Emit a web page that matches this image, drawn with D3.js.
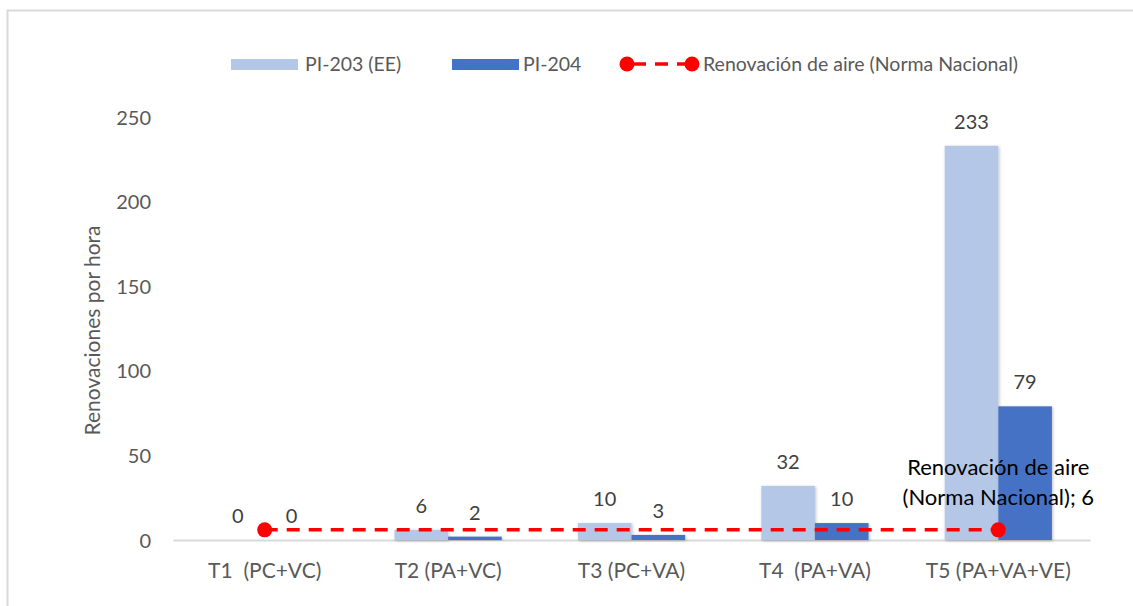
<!DOCTYPE html>
<html>
<head>
<meta charset="utf-8">
<script src="https://cdn.jsdelivr.net/npm/d3@7"></script>
<style>
	body { margin: 0; background: #fff; }
	text { font-family: Lato, "Open Sans", sans-serif; white-space: pre; }
</style>
</head>
<body>
<script>
const categories = ['T1  (PC+VC)', 'T2 (PA+VC)', 'T3 (PC+VA)', 'T4  (PA+VA)', 'T5 (PA+VA+VE)'];
const pi203 = [0, 6, 10, 32, 233];
const pi204 = [0, 2, 3, 10, 79];
const norma = [6, 6, 6, 6, 6];
const normaMarkers = [true, false, false, false, true];
const yTicks = [0, 50, 100, 150, 200, 250];
const seriesNames = ['PI-203 (EE)', 'PI-204', 'Renovación de aire (Norma Nacional)'];

document.addEventListener('DOMContentLoaded', () => {
	let width = 1133, height = 606;
	let svg = d3.select('body').append('svg')
		.attr('width', width)
		.attr('height', height);

	let defs = svg.append('defs');
	let f = defs.append('filter').attr('id', 'shadow')
		.attr('x', '-20%').attr('y', '-20%').attr('width', '140%').attr('height', '140%');
	f.append('feDropShadow').attr('dx', 1).attr('dy', 1).attr('stdDeviation', 1.5)
		.attr('flood-color', '#000').attr('flood-opacity', 0.25);

	// chart frame
	svg.append('rect')
		.attr('x', 7.5).attr('y', 10.5)
		.attr('width', width).attr('height', height)
		.style('fill', 'none').style('stroke', '#D9D9D9').style('stroke-width', 2);

	let left = 173, right = 1090, top = 117, bottom = 540;

	let x = d3.scaleBand().domain(categories).range([left, right]);
	let y = d3.scaleLinear().domain([0, 250]).range([bottom, top]);
	let inner = d3.scaleBand().domain([0, 1]).range([0, x.bandwidth()]).paddingOuter(0.71);

	// y axis labels
	let yAxis = svg.append('g')
		.attr('transform', `translate(${left - 22},0)`)
		.call(d3.axisLeft(y).tickValues(yTicks).tickSize(0).tickPadding(0));
	yAxis.select('.domain').remove();
	yAxis.selectAll('text')
		.style('font-size', '20px').style('fill', '#595959')
		.attr('dy', '0.35em');

	svg.append('text')
		.attr('transform', `translate(100,${(top + bottom) / 2 + 2}) rotate(-90)`)
		.attr('text-anchor', 'middle')
		.style('font-size', '21px').style('fill', '#595959')
		.text('Renovaciones por hora');

	// x axis
	let xAxis = svg.append('g')
		.attr('transform', `translate(0,${bottom})`)
		.call(d3.axisBottom(x).tickSize(0).tickPadding(23));
	xAxis.select('.domain').style('stroke', '#D9D9D9').style('stroke-width', 2);
	xAxis.selectAll('text')
		.style('font-size', '21px').style('fill', '#595959');

	// bars
	let series = [
		{ values: pi203, color: '#B4C7E7', idx: 0 },
		{ values: pi204, color: '#4472C4', idx: 1 }
	];
	for (let s of series) {
		let g = svg.append('g');
		g.selectAll('rect')
			.data(s.values)
			.enter().append('rect')
			.attr('x', (d, i) => x(categories[i]) + inner(s.idx))
			.attr('y', d => y(d))
			.attr('width', inner.bandwidth())
			.attr('height', d => bottom - y(d))
			.style('fill', s.color)
			.attr('filter', 'url(#shadow)');
		g.selectAll('text')
			.data(s.values)
			.enter().append('text')
			.attr('x', (d, i) => x(categories[i]) + inner(s.idx) + inner.bandwidth() / 2)
			.attr('y', d => y(d) - 17)
			.attr('text-anchor', 'middle')
			.style('font-size', '20px').style('fill', '#404040')
			.text(d => d);
	}

	// norma line
	let line = d3.line()
		.x((d, i) => x(categories[i]) + x.bandwidth() / 2)
		.y(d => y(d));
	svg.append('path')
		.datum(norma)
		.attr('d', line)
		.style('fill', 'none').style('stroke', '#FF0000')
		.style('stroke-width', 3.5).style('stroke-dasharray', '13,9');
	svg.selectAll('circle.marker')
		.data(norma.map((d, i) => ({ v: d, i: i })).filter(d => normaMarkers[d.i]))
		.enter().append('circle')
		.attr('class', 'marker')
		.attr('cx', d => x(categories[d.i]) + x.bandwidth() / 2)
		.attr('cy', d => y(d.v))
		.attr('r', 7.5)
		.style('fill', '#FF0000');

	let last = norma.length - 1;
	let lbl = svg.append('text')
		.attr('x', x(categories[last]) + x.bandwidth() / 2)
		.attr('y', y(norma[last]) - 55)
		.attr('text-anchor', 'middle')
		.style('font-size', '22px').style('fill', '#000');
	lbl.append('tspan').text('Renovación de aire');
	lbl.append('tspan')
		.attr('x', x(categories[last]) + x.bandwidth() / 2)
		.attr('dy', 30)
		.text('(Norma Nacional); ' + norma[last]);

	// legend
	let legend = svg.append('g');
	legend.append('rect').attr('x', 231).attr('y', 59).attr('width', 67).attr('height', 11).style('fill', '#B4C7E7');
	legend.append('text').attr('x', 305).attr('y', 71).style('font-size', '19.5px').style('fill', '#595959').text(seriesNames[0]);
	legend.append('rect').attr('x', 452).attr('y', 59).attr('width', 67).attr('height', 11).style('fill', '#4472C4');
	legend.append('text').attr('x', 523).attr('y', 71).style('font-size', '19.5px').style('fill', '#595959').text(seriesNames[1]);
	legend.append('line').attr('x1', 627).attr('x2', 692).attr('y1', 64).attr('y2', 64)
		.style('stroke', '#FF0000').style('stroke-width', 3.5).style('stroke-dasharray', '13,9').style('stroke-dashoffset', -6);
	legend.selectAll('circle').data([627, 692]).enter().append('circle')
		.attr('cx', d => d).attr('cy', 64).attr('r', 7.5).style('fill', '#FF0000');
	legend.append('text').attr('x', 703).attr('y', 71).style('font-size', '19.5px').style('fill', '#595959').text(seriesNames[2]);
});
</script>
</body>
</html>
